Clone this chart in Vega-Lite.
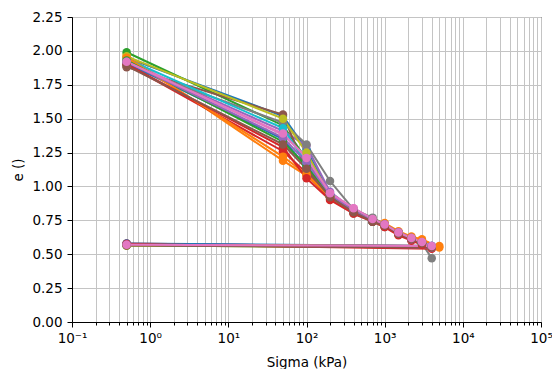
{
  "$schema": "https://vega.github.io/schema/vega-lite/v6.json",
  "width": 469,
  "height": 305,
  "autosize": "none",
  "padding": {"left": 72, "top": 17, "right": 11, "bottom": 47},
  "background": "white",
  "config": {
    "view": {"stroke": "black", "strokeWidth": 1},
    "font": "DejaVu Sans"
  },
  "data": {
    "values": [
      {"s":"s01","i":1,"x":0.5,"e":1.95},{"s":"s01","i":2,"x":50,"e":1.52},{"s":"s01","i":3,"x":100,"e":1.27},{"s":"s01","i":4,"x":200,"e":0.94},{"s":"s01","i":5,"x":400,"e":0.82},{"s":"s01","i":6,"x":700,"e":0.75},{"s":"s01","i":7,"x":1000,"e":0.72},{"s":"s01","i":8,"x":1500,"e":0.66},{"s":"s01","i":9,"x":2200,"e":0.62},{"s":"s01","i":10,"x":3000,"e":0.59},{"s":"s01","i":11,"x":4000,"e":0.56},{"s":"s01","i":12,"x":0.5,"e":0.575},
      {"s":"s02","i":1,"x":0.5,"e":1.97},{"s":"s02","i":2,"x":50,"e":1.19},{"s":"s02","i":3,"x":100,"e":1.08},{"s":"s02","i":4,"x":200,"e":0.92},{"s":"s02","i":5,"x":400,"e":0.83},{"s":"s02","i":6,"x":700,"e":0.76},{"s":"s02","i":7,"x":1000,"e":0.73},{"s":"s02","i":8,"x":1500,"e":0.67},{"s":"s02","i":9,"x":2200,"e":0.63},{"s":"s02","i":10,"x":3000,"e":0.61},{"s":"s02","i":11,"x":5000,"e":0.55},{"s":"s02","i":12,"x":0.5,"e":0.57},
      {"s":"s03","i":1,"x":0.5,"e":1.99},{"s":"s03","i":2,"x":50,"e":1.45},{"s":"s03","i":3,"x":100,"e":1.2},{"s":"s03","i":4,"x":200,"e":0.93},{"s":"s03","i":5,"x":400,"e":0.81},{"s":"s03","i":6,"x":700,"e":0.74},{"s":"s03","i":7,"x":1000,"e":0.71},{"s":"s03","i":8,"x":1500,"e":0.65},{"s":"s03","i":9,"x":2200,"e":0.61},{"s":"s03","i":10,"x":3000,"e":0.58},{"s":"s03","i":11,"x":4000,"e":0.55},{"s":"s03","i":12,"x":0.5,"e":0.565},
      {"s":"s04","i":1,"x":0.5,"e":1.9},{"s":"s04","i":2,"x":50,"e":1.26},{"s":"s04","i":3,"x":100,"e":1.1},{"s":"s04","i":4,"x":200,"e":0.91},{"s":"s04","i":5,"x":400,"e":0.81},{"s":"s04","i":6,"x":700,"e":0.75},{"s":"s04","i":7,"x":1000,"e":0.71},{"s":"s04","i":8,"x":1500,"e":0.65},{"s":"s04","i":9,"x":2200,"e":0.61},{"s":"s04","i":10,"x":3000,"e":0.58},{"s":"s04","i":11,"x":4000,"e":0.55},{"s":"s04","i":12,"x":0.5,"e":0.58},
      {"s":"s05","i":1,"x":0.5,"e":1.92},{"s":"s05","i":2,"x":50,"e":1.41},{"s":"s05","i":3,"x":100,"e":1.3},{"s":"s05","i":4,"x":200,"e":0.96},{"s":"s05","i":5,"x":400,"e":0.83},{"s":"s05","i":6,"x":700,"e":0.75},{"s":"s05","i":7,"x":1000,"e":0.72},{"s":"s05","i":8,"x":1500,"e":0.66},{"s":"s05","i":9,"x":2200,"e":0.62},{"s":"s05","i":10,"x":3000,"e":0.59},{"s":"s05","i":11,"x":4000,"e":0.56},{"s":"s05","i":12,"x":0.5,"e":0.575},
      {"s":"s06","i":1,"x":0.5,"e":1.88},{"s":"s06","i":2,"x":50,"e":1.53},{"s":"s06","i":3,"x":100,"e":1.11},{"s":"s06","i":4,"x":200,"e":0.92},{"s":"s06","i":5,"x":400,"e":0.8},{"s":"s06","i":6,"x":700,"e":0.74},{"s":"s06","i":7,"x":1000,"e":0.7},{"s":"s06","i":8,"x":1500,"e":0.65},{"s":"s06","i":9,"x":2200,"e":0.61},{"s":"s06","i":10,"x":3000,"e":0.58},{"s":"s06","i":11,"x":4000,"e":0.55},{"s":"s06","i":12,"x":0.5,"e":0.57},
      {"s":"s07","i":1,"x":0.5,"e":1.93},{"s":"s07","i":2,"x":50,"e":1.38},{"s":"s07","i":3,"x":100,"e":1.22},{"s":"s07","i":4,"x":200,"e":0.95},{"s":"s07","i":5,"x":400,"e":0.84},{"s":"s07","i":6,"x":700,"e":0.76},{"s":"s07","i":7,"x":1000,"e":0.72},{"s":"s07","i":8,"x":1500,"e":0.66},{"s":"s07","i":9,"x":2200,"e":0.62},{"s":"s07","i":10,"x":3000,"e":0.59},{"s":"s07","i":11,"x":4000,"e":0.56},{"s":"s07","i":12,"x":0.5,"e":0.575},
      {"s":"s08","i":1,"x":0.5,"e":1.89},{"s":"s08","i":2,"x":50,"e":1.47},{"s":"s08","i":3,"x":100,"e":1.31},{"s":"s08","i":4,"x":200,"e":1.04},{"s":"s08","i":5,"x":400,"e":0.83},{"s":"s08","i":6,"x":700,"e":0.77},{"s":"s08","i":7,"x":1000,"e":0.72},{"s":"s08","i":8,"x":1500,"e":0.66},{"s":"s08","i":9,"x":2200,"e":0.62},{"s":"s08","i":10,"x":3000,"e":0.58},{"s":"s08","i":11,"x":4000,"e":0.47},
      {"s":"s09","i":1,"x":0.5,"e":1.96},{"s":"s09","i":2,"x":50,"e":1.5},{"s":"s09","i":3,"x":100,"e":1.25},{"s":"s09","i":4,"x":200,"e":0.93},{"s":"s09","i":5,"x":400,"e":0.82},{"s":"s09","i":6,"x":700,"e":0.75},{"s":"s09","i":7,"x":1000,"e":0.71},{"s":"s09","i":8,"x":1500,"e":0.65},{"s":"s09","i":9,"x":2200,"e":0.61},{"s":"s09","i":10,"x":3000,"e":0.59},{"s":"s09","i":11,"x":4000,"e":0.55},{"s":"s09","i":12,"x":0.5,"e":0.565},
      {"s":"s10","i":1,"x":0.5,"e":1.94},{"s":"s10","i":2,"x":50,"e":1.43},{"s":"s10","i":3,"x":100,"e":1.17},{"s":"s10","i":4,"x":200,"e":0.92},{"s":"s10","i":5,"x":400,"e":0.81},{"s":"s10","i":6,"x":700,"e":0.74},{"s":"s10","i":7,"x":1000,"e":0.71},{"s":"s10","i":8,"x":1500,"e":0.65},{"s":"s10","i":9,"x":2200,"e":0.61},{"s":"s10","i":10,"x":3000,"e":0.58},{"s":"s10","i":11,"x":4000,"e":0.55},{"s":"s10","i":12,"x":0.5,"e":0.57},
      {"s":"s11","i":1,"x":0.5,"e":1.91},{"s":"s11","i":2,"x":50,"e":1.35},{"s":"s11","i":3,"x":100,"e":1.14},{"s":"s11","i":4,"x":200,"e":0.93},{"s":"s11","i":5,"x":400,"e":0.82},{"s":"s11","i":6,"x":700,"e":0.75},{"s":"s11","i":7,"x":1000,"e":0.72},{"s":"s11","i":8,"x":1500,"e":0.66},{"s":"s11","i":9,"x":2200,"e":0.62},{"s":"s11","i":10,"x":3000,"e":0.59},{"s":"s11","i":11,"x":4000,"e":0.56},{"s":"s11","i":12,"x":0.5,"e":0.58},
      {"s":"s12","i":1,"x":0.5,"e":1.95},{"s":"s12","i":2,"x":50,"e":1.22},{"s":"s12","i":3,"x":100,"e":1.09},{"s":"s12","i":4,"x":200,"e":0.92},{"s":"s12","i":5,"x":400,"e":0.81},{"s":"s12","i":6,"x":700,"e":0.75},{"s":"s12","i":7,"x":1000,"e":0.72},{"s":"s12","i":8,"x":1500,"e":0.66},{"s":"s12","i":9,"x":2200,"e":0.62},{"s":"s12","i":10,"x":3000,"e":0.6},{"s":"s12","i":11,"x":5000,"e":0.56},{"s":"s12","i":12,"x":0.5,"e":0.57},
      {"s":"s13","i":1,"x":0.5,"e":1.93},{"s":"s13","i":2,"x":50,"e":1.33},{"s":"s13","i":3,"x":100,"e":1.15},{"s":"s13","i":4,"x":200,"e":0.93},{"s":"s13","i":5,"x":400,"e":0.82},{"s":"s13","i":6,"x":700,"e":0.75},{"s":"s13","i":7,"x":1000,"e":0.71},{"s":"s13","i":8,"x":1500,"e":0.65},{"s":"s13","i":9,"x":2200,"e":0.61},{"s":"s13","i":10,"x":3000,"e":0.58},{"s":"s13","i":11,"x":4000,"e":0.55},{"s":"s13","i":12,"x":0.5,"e":0.57},
      {"s":"s14","i":1,"x":0.5,"e":1.9},{"s":"s14","i":2,"x":50,"e":1.29},{"s":"s14","i":3,"x":100,"e":1.06},{"s":"s14","i":4,"x":200,"e":0.9},{"s":"s14","i":5,"x":400,"e":0.8},{"s":"s14","i":6,"x":700,"e":0.74},{"s":"s14","i":7,"x":1000,"e":0.7},{"s":"s14","i":8,"x":1500,"e":0.64},{"s":"s14","i":9,"x":2200,"e":0.6},{"s":"s14","i":10,"x":3000,"e":0.57},{"s":"s14","i":11,"x":4000,"e":0.54},{"s":"s14","i":12,"x":0.5,"e":0.575},
      {"s":"s15","i":1,"x":0.5,"e":1.92},{"s":"s15","i":2,"x":50,"e":1.36},{"s":"s15","i":3,"x":100,"e":1.18},{"s":"s15","i":4,"x":200,"e":0.94},{"s":"s15","i":5,"x":400,"e":0.82},{"s":"s15","i":6,"x":700,"e":0.75},{"s":"s15","i":7,"x":1000,"e":0.72},{"s":"s15","i":8,"x":1500,"e":0.66},{"s":"s15","i":9,"x":2200,"e":0.61},{"s":"s15","i":10,"x":3000,"e":0.59},{"s":"s15","i":11,"x":4000,"e":0.55},{"s":"s15","i":12,"x":0.5,"e":0.57},
      {"s":"s16","i":1,"x":0.5,"e":1.89},{"s":"s16","i":2,"x":50,"e":1.31},{"s":"s16","i":3,"x":100,"e":1.13},{"s":"s16","i":4,"x":200,"e":0.92},{"s":"s16","i":5,"x":400,"e":0.81},{"s":"s16","i":6,"x":700,"e":0.74},{"s":"s16","i":7,"x":1000,"e":0.71},{"s":"s16","i":8,"x":1500,"e":0.65},{"s":"s16","i":9,"x":2200,"e":0.61},{"s":"s16","i":10,"x":3000,"e":0.58},{"s":"s16","i":11,"x":4000,"e":0.55},{"s":"s16","i":12,"x":0.5,"e":0.565},
      {"s":"s17","i":1,"x":0.5,"e":1.92},{"s":"s17","i":2,"x":50,"e":1.39},{"s":"s17","i":3,"x":100,"e":1.21},{"s":"s17","i":4,"x":200,"e":0.95},{"s":"s17","i":5,"x":400,"e":0.84},{"s":"s17","i":6,"x":700,"e":0.76},{"s":"s17","i":7,"x":1000,"e":0.72},{"s":"s17","i":8,"x":1500,"e":0.66},{"s":"s17","i":9,"x":2200,"e":0.62},{"s":"s17","i":10,"x":3000,"e":0.59},{"s":"s17","i":11,"x":4000,"e":0.56},{"s":"s17","i":12,"x":0.5,"e":0.57}
    ]
  },
  "mark": {
    "type": "line",
    "strokeWidth": 2,
    "clip": true,
    "point": {"filled": true, "size": 72, "opacity": 1}
  },
  "encoding": {
    "x": {
      "field": "x",
      "type": "quantitative",
      "scale": {"type": "log", "domain": [0.1, 100000]},
      "axis": {
        "title": "Sigma (kPa)",
        "titleFont": "DejaVu Sans",
        "titleFontSize": 13.5,
        "titleFontWeight": "normal",
        "titleColor": "black",
        "titleX": 234.5,
        "titleY": 40,
        "titleBaseline": "middle",
        "values": [0.1,0.2,0.3,0.4,0.5,0.6,0.7,0.8,0.9,1,2,3,4,5,6,7,8,9,10,20,30,40,50,60,70,80,90,100,200,300,400,500,600,700,800,900,1000,2000,3000,4000,5000,6000,7000,8000,9000,10000,20000,30000,40000,50000,60000,70000,80000,90000,100000],
        "labelExpr": "datum.value == 0.1 ? '10⁻¹' : datum.value == 1 ? '10⁰' : datum.value == 10 ? '10¹' : datum.value == 100 ? '10²' : datum.value == 1000 ? '10³' : datum.value == 10000 ? '10⁴' : datum.value == 100000 ? '10⁵' : ''",
        "labelFont": "DejaVu Sans",
        "labelFontSize": 13.5,
        "labelColor": "black",
        "labelFlush": false,
        "labelOverlap": false,
        "labelPadding": 4,
        "grid": true,
        "gridColor": "#c4c4c4",
        "gridWidth": 1,
        "domainColor": "black",
        "tickColor": "black",
        "tickSize": {"condition": {"test": "indexof([0.1,1,10,100,1000,10000,100000], datum.value) >= 0", "value": 5}, "value": 3}
      }
    },
    "y": {
      "field": "e",
      "type": "quantitative",
      "scale": {"domain": [0, 2.25], "nice": false, "zero": false},
      "axis": {
        "title": "e ()",
        "titleFont": "DejaVu Sans",
        "titleFontSize": 13.5,
        "titleFontWeight": "normal",
        "titleColor": "black",
        "titleX": -54,
        "titleY": 152.5,
        "titleBaseline": "middle",
        "values": [0,0.25,0.5,0.75,1,1.25,1.5,1.75,2,2.25],
        "format": ".2f",
        "labelFont": "DejaVu Sans",
        "labelFontSize": 13.5,
        "labelColor": "black",
        "labelPadding": 5,
        "labelFlush": false,
        "labelOverlap": false,
        "grid": true,
        "gridColor": "#c4c4c4",
        "gridWidth": 1,
        "domainColor": "black",
        "tickColor": "black",
        "tickSize": 5
      }
    },
    "color": {
      "field": "s",
      "type": "nominal",
      "legend": null,
      "scale": {
        "domain": ["s01","s02","s03","s04","s05","s06","s07","s08","s09","s10","s11","s12","s13","s14","s15","s16","s17"],
        "range": ["#1f77b4","#ff7f0e","#2ca02c","#d62728","#9467bd","#8c564b","#e377c2","#7f7f7f","#bcbd22","#17becf","#1f77b4","#ff7f0e","#2ca02c","#d62728","#9467bd","#8c564b","#e377c2"]
      }
    },
    "order": {"field": "i", "type": "quantitative"}
  }
}
